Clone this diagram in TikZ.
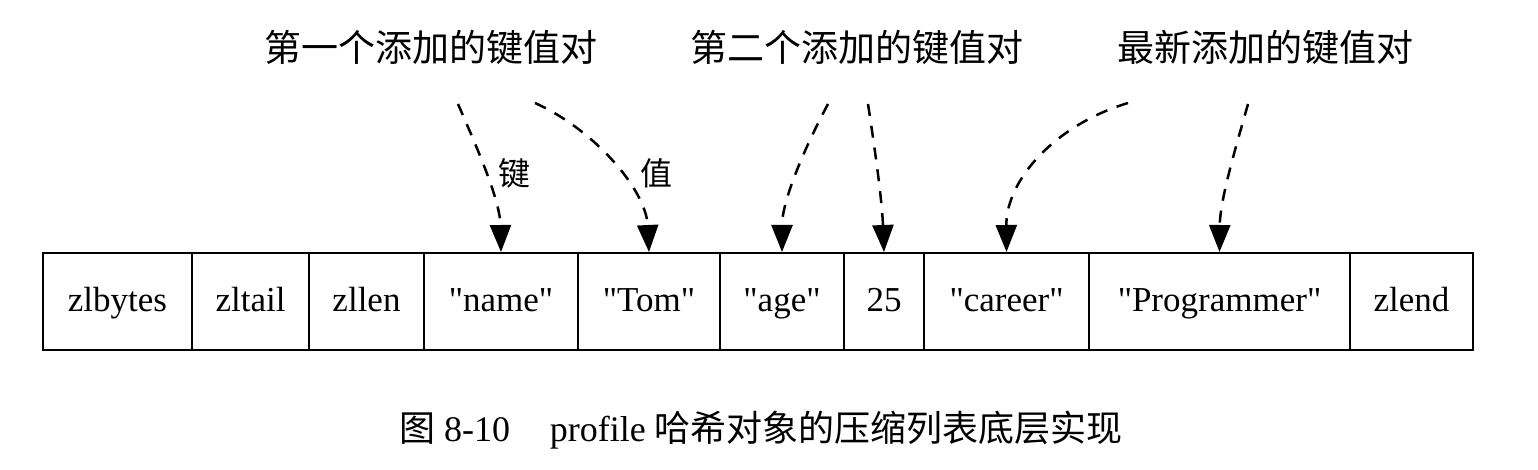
\documentclass[tikz,border=0pt]{standalone}
\usepackage{fontspec}
\setmainfont{Liberation Serif}
\newfontfamily\cjk{Noto Sans CJK SC}
\usetikzlibrary{arrows.meta}
\newcommand{\qq}{\textquotedbl}
\tikzset{
  cell/.style={draw=black, line width=2pt, fill=white, minimum height=97pt, inner sep=0pt, anchor=north west,
    text height=27pt, text depth=8pt, font=\fontsize{35}{40}\selectfont},
  toplabel/.style={font=\cjk\fontsize{37}{40}\selectfont, inner sep=0pt},
  sidelabel/.style={font=\cjk\fontsize{32}{36}\selectfont, inner sep=0pt},
  ptr/.style={line width=2.5pt, dash pattern=on 12pt off 10pt, -{Triangle[length=27pt,width=21pt]}},
}
\begin{document}
\begin{tikzpicture}[x=1pt,y=-1pt]
\fill[white] (0,0) rectangle (1538,470);
\useasboundingbox (0,0) rectangle (1538,470);
% cells
\node[cell, minimum width=149pt] (c1) at (42,252) {zlbytes};
\node[cell, minimum width=117pt] (c2) at (191,252) {zltail};
\node[cell, minimum width=115pt] (c3) at (308,252) {zllen};
\node[cell, minimum width=154pt] (c4) at (423,252) {\qq name\qq};
\node[cell, minimum width=142pt] (c5) at (577,252) {\qq Tom\qq};
\node[cell, minimum width=124pt] (c6) at (719,252) {\qq age\qq};
\node[cell, minimum width=80pt]  (c7) at (843,252) {25};
\node[cell, minimum width=165pt] (c8) at (923,252) {\qq career\qq};
\node[cell, minimum width=261pt] (c9) at (1088,252) {\qq Programmer\qq};
\node[cell, minimum width=123pt] (c10) at (1349,252) {zlend};
% top labels
\node[toplabel] (l1) at (431,47) {第一个添加的键值对};
\node[toplabel] (l2) at (857,47) {第二个添加的键值对};
\node[toplabel] (l3) at (1265,47) {最新添加的键值对};
% arrow starts
\coordinate (s1) at (458,104);
\coordinate (s2) at (535,103);
\coordinate (s3) at (828,104);
\coordinate (s4) at (868,104);
\coordinate (s5) at (1128,103);
\coordinate (s6) at (1248,104);
% pointers
\draw[ptr] (s1) .. controls (478,150) and (500,200) .. (c4.north);
\draw[ptr] (s2) .. controls (595,130) and (646,190) .. (c5.north);
\draw[ptr] (s3) .. controls (806,145) and (782,200) .. (c6.north);
\draw[ptr] (s4) .. controls (875,150) and (882,200) .. (c7.north);
\draw[ptr] (s5) .. controls (1055,125) and (1006,180) .. (c8.north);
\draw[ptr] (s6) .. controls (1235,150) and (1220,200) .. (c9.north);
% side labels
\node[sidelabel] (k) at (514,173) {键};
\node[sidelabel] (v) at (656,173) {值};
% caption
\node[inner sep=0pt, font=\fontsize{36}{40}\selectfont] (cap) at (761,430) {{\cjk 图}~8-10\hspace{1.1em}profile~{\cjk 哈希对象的压缩列表底层实现}};
\end{tikzpicture}
\end{document}
